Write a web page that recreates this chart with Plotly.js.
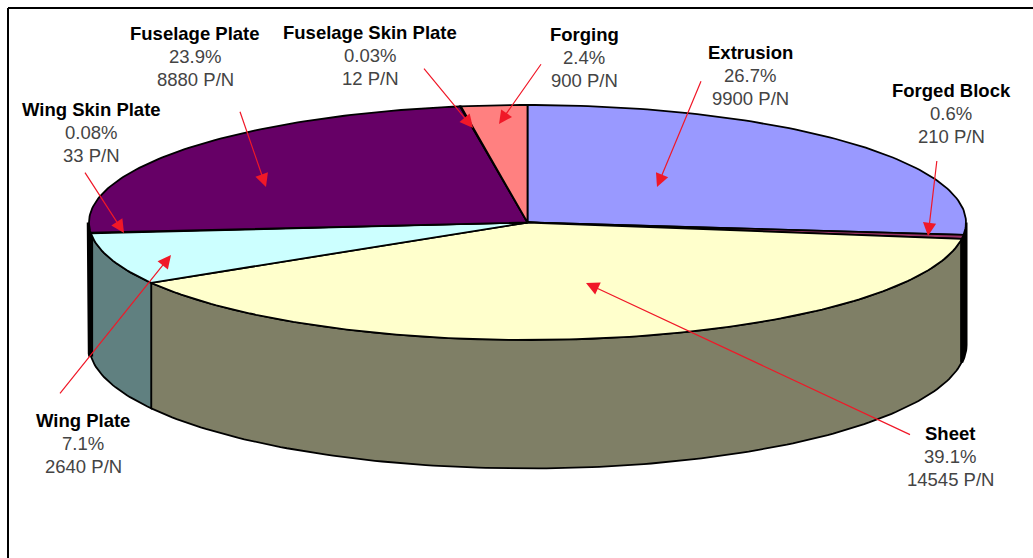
<!DOCTYPE html>
<html>
<head>
<meta charset="utf-8">
<script src="https://cdn.plot.ly/plotly-3.0.1.min.js"></script>
<style>html,body{margin:0;padding:0;background:#fff}#chart{width:1033px;height:558px}</style>
</head>
<body>
<div id="chart"></div>
<script>
// Part numbers per product form, clockwise from twelve o'clock
const forms = ['Extrusion', 'Forged Block', 'Sheet', 'Wing Plate', 'Wing Skin Plate', 'Fuselage Plate', 'Fuselage Skin Plate', 'Forging'];
const partNumbers = [9900, 210, 14545, 2640, 33, 8880, 12, 900];
const shareLabels = ['26.7%', '0.6%', '39.1%', '7.1%', '0.08%', '23.9%', '0.03%', '2.4%'];
const topColors = ['#9999FF', '#993366', '#FFFFCC', '#CCFFFF', '#660066', '#660066', '#FF8080', '#FF8080'];
const sideColors = ['#1A1A40', '#200A18', '#7F7F66', '#608080', '#100010', '#100010', '#804040', '#804040'];

// Label placement: centre x and first line y for each form
const labelX = [750, 951, 950, 83, 91, 195, 370, 584];
const labelY = [52, 90, 433, 420, 109, 33, 32, 34];
const lineStep = 23;

// Leader arrows: tail x/y and tip x/y for each form
const tailX = [704, 938, 913, 57, 82, 237, 421, 544];
const tailY = [74, 151, 436, 397, 168, 103, 65, 60];
const tipX = [657, 928, 586, 171, 124, 266, 473, 499];
const tipY = [187, 236, 283, 255, 233, 187, 128, 124];

// Projection of the disc onto the page: top rim and the slightly rounder bottom rim
const top_ = {cx: 527.5, cy: 222.5, rx: 438.5, ry: 117.5};
const base = {cx: 527.5, cy: 345, rx: 438.5, ry: 123.5};

const rim = (e, deg) => {
  const a = deg * Math.PI / 180;
  return [e.cx + e.rx * Math.sin(a), e.cy - e.ry * Math.cos(a)];
};

function arc(e, from, to) {
  const n = Math.max(2, Math.ceil(Math.abs(to - from)));
  const pts = [];
  for (let i = 0; i <= n; i++) pts.push(rim(e, from + (to - from) * i / n));
  return pts;
}

const total = partNumbers.reduce((s, v) => s + v, 0);
let running = 0;
const spans = partNumbers.map(v => {
  const start = running / total * 360;
  running += v;
  return [start, running / total * 360];
});

const polygon = (pts, fill, name, width) => ({
  type: 'scatter', mode: 'lines', name,
  x: pts.map(p => p[0]), y: pts.map(p => p[1]),
  fill: 'toself', fillcolor: fill,
  line: {color: '#000', width},
  hoverinfo: 'name', showlegend: false
});

// Outer wall: only the arc on the near half of the rim shows.
// The narrow end-on walls at either side read as heavy dark bars, so they go on last.
const walls = [];
spans.forEach(([a, b], i) => {
  const from = Math.max(a, 90), to = Math.min(b, 270);
  if (to <= from) return;
  const pts = arc(top_, from, to).concat(arc(base, to, from));
  pts.push(pts[0]);
  const endOn = (to - from) < 10;
  const width = endOn ? (from > 180 ? 4.5 : 3) : 1.8;
  walls.push({endOn, trace: polygon(pts, sideColors[i], forms[i] + ' wall', width)});
});
const traces = walls.filter(w => !w.endOn).concat(walls.filter(w => w.endOn)).map(w => w.trace);

// Top faces
spans.forEach(([a, b], i) => {
  const pts = [[top_.cx, top_.cy]].concat(arc(top_, a, b));
  pts.push(pts[0]);
  traces.push(polygon(pts, topColors[i], forms[i], 1.8));
});

const annotations = [];
forms.forEach((form, i) => {
  const lines = ['<b>' + form + '</b>', shareLabels[i], partNumbers[i] + ' P/N'];
  lines.forEach((text, k) => annotations.push({
    x: labelX[i], y: labelY[i] + k * lineStep, xref: 'x', yref: 'y',
    text, showarrow: false, xanchor: 'center', yanchor: 'middle',
    font: {family: '"Liberation Sans", Arial, sans-serif', size: 18.5, color: k === 0 ? '#000' : '#444'}
  }));
  annotations.push({
    x: tipX[i], y: tipY[i], ax: tailX[i], ay: tailY[i],
    xref: 'x', yref: 'y', axref: 'x', ayref: 'y',
    text: ' ', showarrow: true, arrowhead: 2, arrowsize: 2.2, arrowwidth: 1.2,
    arrowcolor: '#F01828', standoff: 0, startstandoff: 0
  });
});

const axis = {visible: false, fixedrange: true};
const layout = {
  width: 1033, height: 558,
  margin: {l: 0, r: 0, t: 0, b: 0},
  paper_bgcolor: '#fff', plot_bgcolor: '#fff',
  xaxis: Object.assign({range: [0, 1033]}, axis),
  yaxis: Object.assign({range: [558, 0]}, axis),
  annotations,
  shapes: [
    {type: 'line', xref: 'x', yref: 'y', x0: 8, x1: 1033, y0: 8, y1: 8, line: {color: '#000', width: 2}},
    {type: 'line', xref: 'x', yref: 'y', x0: 8, x1: 8, y0: 8, y1: 558, line: {color: '#000', width: 2}}
  ]
};

Plotly.newPlot('chart', traces, layout, {displayModeBar: false, staticPlot: true});
</script>
</body>
</html>
